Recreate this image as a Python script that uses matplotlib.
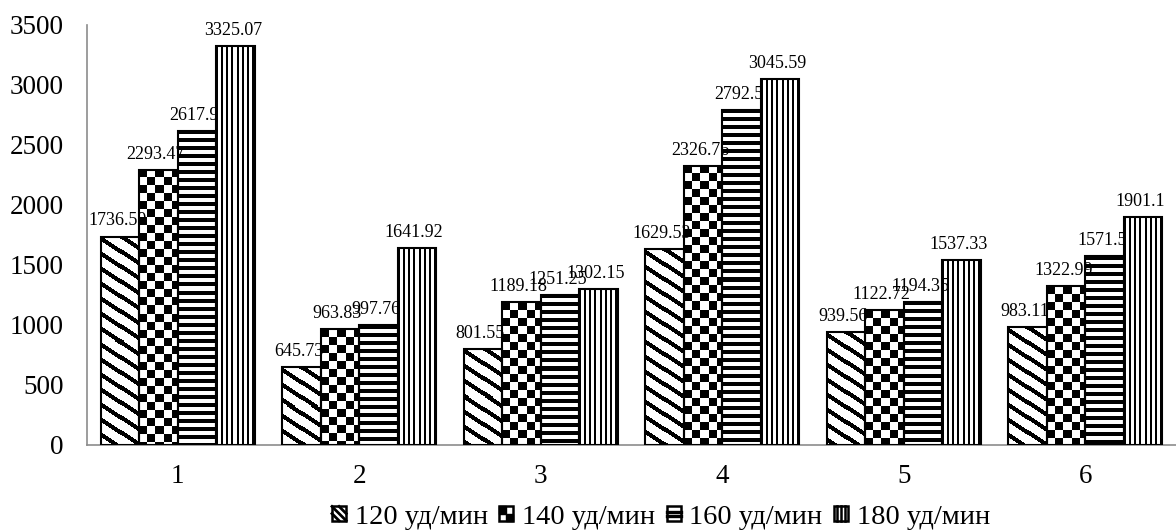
import numpy as np
import matplotlib
matplotlib.use('Agg')
import matplotlib.pyplot as plt
from matplotlib.patches import Rectangle, Patch
from matplotlib.lines import Line2D
from matplotlib.legend_handler import HandlerBase

plt.rcParams['font.family'] = ['Liberation Serif', 'DejaVu Serif']

groups = ['1', '2', '3', '4', '5', '6']
series = ['120 уд/мин', '140 уд/мин', '160 уд/мин', '180 уд/мин']
v120 = [1736.59, 645.73, 801.55, 1629.53, 939.56, 983.11]
v140 = [2293.47, 963.83, 1189.18, 2326.76, 1122.72, 1322.99]
v160 = [2617.9, 997.76, 1251.25, 2792.5, 1194.35, 1571.5]
v180 = [3325.07, 1641.92, 1302.15, 3045.59, 1537.33, 1901.1]
values = [v120, v140, v160, v180]
kinds = ['diag', 'check', 'horiz', 'vert']


def pattern(kind, h, w):
    # black/white fill mask, one cell per screen pixel
    r, c = np.indices((h, w))
    if kind == 'diag':
        m = ((r - 0.66 * c) % 15) < 5
    elif kind == 'check':
        m = ((r // 8) + (c // 8)) % 2 == 0
    elif kind == 'horiz':
        m = (r % 8) < 4
    else:
        m = (c % 5) < 2
    return np.where(m, 0.0, 1.0)


class PatternHandler(HandlerBase):
    # small square legend key with the same fill idea as the bars
    def __init__(self, kind):
        super().__init__()
        self.kind = kind

    def create_artists(self, legend, orig_handle, xdescent, ydescent,
                       width, height, fontsize, trans):
        s = min(width, height)
        x0 = -xdescent
        y0 = -ydescent + (height - s) / 2
        arts = [Rectangle((x0, y0), s, s, facecolor='white', edgecolor='black',
                          lw=1.8, transform=trans)]
        if self.kind == 'diag':
            arts += [Line2D([x0, x0 + s], [y0 + s, y0], color='black', lw=2, transform=trans),
                     Line2D([x0, x0 + s * 0.5], [y0 + s * 0.5, y0], color='black', lw=2, transform=trans),
                     Line2D([x0 + s * 0.5, x0 + s], [y0 + s, y0 + s * 0.5], color='black', lw=2, transform=trans)]
        elif self.kind == 'check':
            arts.append(Rectangle((x0, y0 + s / 2), s / 2, s / 2, color='black', transform=trans))
            arts.append(Rectangle((x0 + s / 2, y0), s / 2, s / 2, color='black', transform=trans))
        elif self.kind == 'horiz':
            for f in (0.36, 0.64):
                arts.append(Line2D([x0, x0 + s], [y0 + s * f] * 2, color='black', lw=2.4, transform=trans))
        else:
            for f in (0.25, 0.5, 0.75):
                arts.append(Line2D([x0 + s * f] * 2, [y0, y0 + s], color='black', lw=1.8, transform=trans))
        return arts


fig = plt.figure(figsize=(11.76, 5.31), dpi=100)
ax = fig.add_axes([0.074, 0.162, 0.926, 0.791])

x = np.arange(len(groups))
width = 0.212
ax.set_xlim(-0.5, 5.5)
ax.set_ylim(0, 3500)

# pixels per data unit, so the fill patterns come out at screen resolution
p0 = ax.transData.transform((0, 0))
p1 = ax.transData.transform((1, 1000))
px_x = p1[0] - p0[0]
px_y = (p1[1] - p0[1]) / 1000.0

for i, (vals, kind) in enumerate(zip(values, kinds)):
    offs = x + (i - 1.5) * width
    bars = ax.bar(offs, vals, width, facecolor='none', edgecolor='black',
                  linewidth=1.5, zorder=3)
    for b, v in zip(bars, vals):
        w_px = max(int(round(width * px_x)), 1)
        h_px = max(int(round(v * px_y)), 1)
        img = ax.imshow(pattern(kind, h_px, w_px), cmap='gray', vmin=0, vmax=1,
                        extent=(b.get_x(), b.get_x() + width, 0, v),
                        aspect='auto', interpolation='nearest', zorder=2)
        img.set_clip_path(b)
        ax.annotate(f'{v:g}', (b.get_x() + width / 2, v), xytext=(-2, 8),
                    textcoords='offset points', ha='center', va='baseline',
                    fontsize=13, zorder=5)

ax.set_xlim(-0.5, 5.5)
ax.set_ylim(0, 3500)
ax.set_xticks(x)
ax.set_xticklabels(groups)
ax.set_yticks(np.arange(0, 3501, 500))
ax.tick_params(axis='both', length=0, labelsize=19.5)
ax.tick_params(axis='y', pad=17)
ax.tick_params(axis='x', pad=14)
for side in ('top', 'right'):
    ax.spines[side].set_visible(False)
for side in ('left', 'bottom'):
    ax.spines[side].set_color('#8c8c8c')
    ax.spines[side].set_linewidth(1.2)

handles = [Patch(label=s) for s in series]
hmap = {h: PatternHandler(k) for h, k in zip(handles, kinds)}
fig.legend(handles=handles, handler_map=hmap, loc='center',
           bbox_to_anchor=(0.562, 0.026), ncol=4, frameon=False,
           fontsize=20.5, handlelength=0.5, handleheight=0.5,
           handletextpad=0.3, columnspacing=0.4)

fig.savefig('out.png', dpi=100)
